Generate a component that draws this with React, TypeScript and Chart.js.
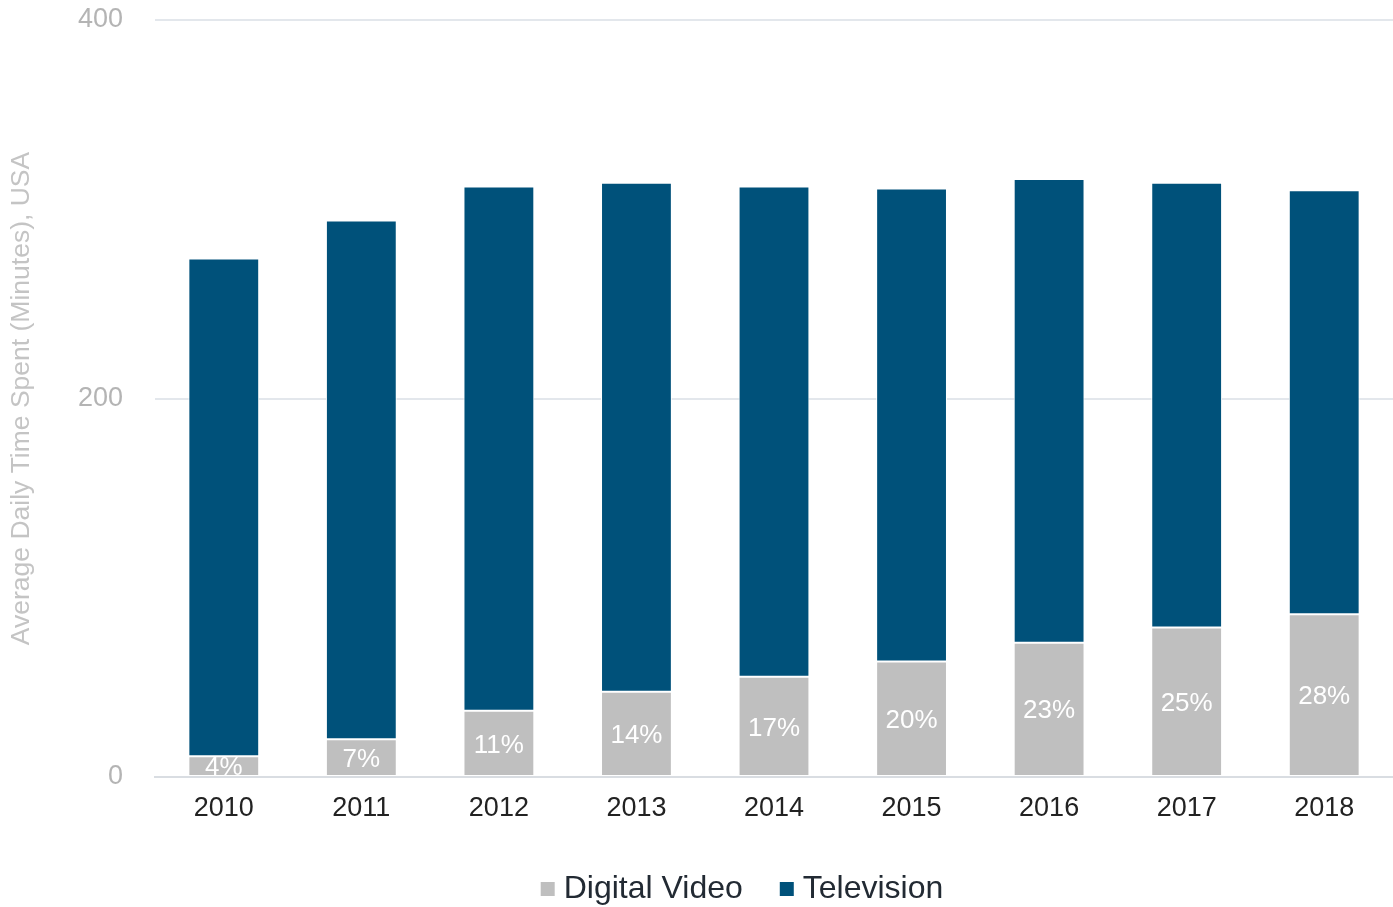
import React, { useEffect, useRef } from "react";
import { Chart, registerables } from "chart.js";

Chart.register(...registerables);

const years = ["2010", "2011", "2012", "2013", "2014", "2015", "2016", "2017", "2018"];
const digitalVideo = [11, 20, 35, 45, 53, 61, 71, 79, 86];
const television = [263, 274, 277, 269, 259, 250, 245, 235, 224];
const pctLabels = ["4%", "7%", "11%", "14%", "17%", "20%", "23%", "25%", "28%"];
const yTicks = [0, 200, 400];
const seriesNames = ["Digital Video", "Television"];
const seriesColors = ["#BFBFBF", "#00517A"];

const FONT = "'Liberation Sans', Arial, sans-serif";

const pctPlugin = {
  id: "pctLabels",
  afterDatasetsDraw(chart: any) {
    const meta = chart.getDatasetMeta(0);
    const ctx = chart.ctx;
    const area = chart.chartArea;
    ctx.save();
    ctx.beginPath();
    ctx.rect(area.left, area.top, area.right - area.left, area.bottom - area.top);
    ctx.clip();
    ctx.fillStyle = "#ffffff";
    ctx.font = `26px ${FONT}`;
    ctx.textAlign = "center";
    ctx.textBaseline = "middle";
    meta.data.forEach((bar: any, i: number) => {
      const cy = (bar.y + bar.base) / 2 + 2;
      ctx.fillText(pctLabels[i], bar.x, cy);
    });
    ctx.restore();
  },
};

const legendPlugin = {
  id: "customLegend",
  afterDraw(chart: any) {
    const ctx = chart.ctx;
    const box = 14;
    const gapText = 9;
    const gapItem = 37;
    ctx.save();
    ctx.font = `32px ${FONT}`;
    ctx.textBaseline = "middle";
    ctx.textAlign = "left";
    const widths = seriesNames.map((n) => ctx.measureText(n).width);
    const total = widths.reduce((a, w) => a + box + gapText + w, 0) + gapItem * (seriesNames.length - 1);
    let x = 742 - total / 2;
    const cy = 889;
    seriesNames.forEach((name, i) => {
      ctx.fillStyle = seriesColors[i];
      ctx.fillRect(x, cy - box / 2, box, box);
      x += box + gapText;
      ctx.fillStyle = "#222a33";
      ctx.fillText(name, x, cy);
      x += widths[i] + gapItem;
    });
    ctx.restore();
  },
};

export default function App() {
  const ref = useRef<HTMLCanvasElement | null>(null);
  useEffect(() => {
    document.body.style.margin = "0";
    const chart = new Chart(ref.current as HTMLCanvasElement, {
      type: "bar",
      data: {
        labels: years,
        datasets: [
          {
            label: seriesNames[0],
            data: digitalVideo,
            backgroundColor: seriesColors[0],
            borderColor: "#ffffff",
            borderWidth: 1,
            borderSkipped: false,
          },
          {
            label: seriesNames[1],
            data: television,
            backgroundColor: seriesColors[1],
            borderColor: "#ffffff",
            borderWidth: 1,
            borderSkipped: false,
          },
        ],
      },
      options: {
        animation: false,
        responsive: false,
        maintainAspectRatio: false,
        layout: { padding: { top: 20, right: 0, bottom: 0, left: 0 } },
        datasets: { bar: { barPercentage: 0.515, categoryPercentage: 1 } },
        plugins: {
          tooltip: { enabled: false },
          legend: { display: false },
        },
        scales: {
          x: {
            stacked: true,
            grid: { display: false, drawTicks: false },
            border: { display: true, color: "#d9dde2", width: 2 },
            ticks: {
              color: "#222222",
              font: { family: FONT, size: 27 },
              padding: 15,
            },
            afterFit: (s: any) => {
              s.height = 130;
            },
          },
          y: {
            stacked: true,
            min: 0,
            max: 400,
            afterBuildTicks: (s: any) => {
              s.ticks = yTicks.map((v) => ({ value: v }));
            },
            grid: {
              color: "#e3e7ec",
              lineWidth: 2,
              drawTicks: true,
              tickLength: 32,
              tickColor: "rgba(0,0,0,0)",
            },
            border: { display: false },
            ticks: {
              color: "#b4b4b4",
              font: { family: FONT, size: 27 },
              padding: 0,
            },
            title: {
              display: true,
              text: "Average Daily Time Spent (Minutes), USA",
              color: "#c4c4c4",
              font: { family: FONT, size: 26.5 },
              padding: { top: 6, bottom: 0 },
            },
            afterFit: (s: any) => {
              s.width = 155;
            },
          },
        },
      },
      plugins: [pctPlugin, legendPlugin],
    });
    return () => chart.destroy();
  }, []);
  return (
    <div style={{ position: "absolute", left: 0, top: 0, width: 1393, height: 907 }}>
      <canvas ref={ref} width={1393} height={907} style={{ width: 1393, height: 907 }} />
    </div>
  );
}
